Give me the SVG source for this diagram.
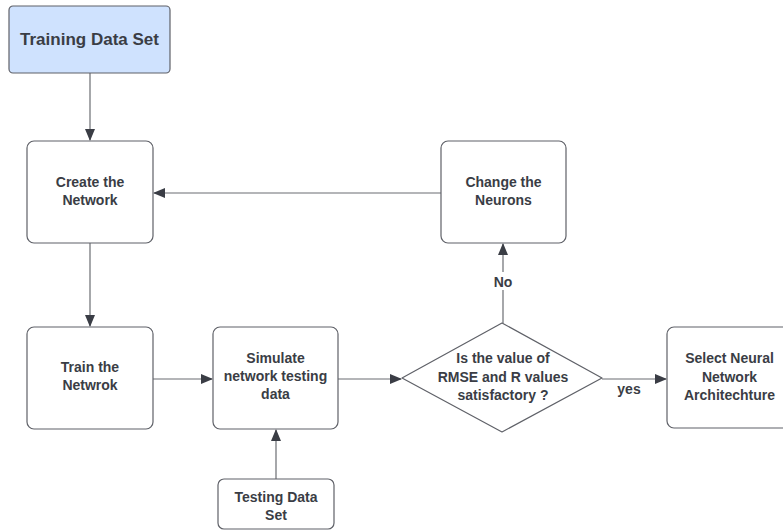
<svg xmlns="http://www.w3.org/2000/svg" width="783" height="531" viewBox="0 0 783 531">
<style>
.box{fill:#ffffff;stroke:#5f6168;stroke-width:1.2}
.start{fill:#cfe2fe;stroke:#5f6168;stroke-width:1.2}
.t{font-family:"Liberation Sans",Arial,sans-serif;font-weight:bold;font-size:14px;fill:#3a3d45;text-anchor:middle}
.big{font-size:17px}
.c{fill:none;stroke:#6b6d72;stroke-width:1.2}
</style>
<defs>
<marker id="ah" markerWidth="12" markerHeight="10" refX="11" refY="5" orient="auto" markerUnits="userSpaceOnUse">
<path d="M0,0 L12,5 L0,10 z" fill="#3a3d45"/>
</marker>
</defs>
<rect width="783" height="531" fill="#ffffff"/>
<g id="connectors">
<line class="c" x1="90" y1="73" x2="90" y2="140" marker-end="url(#ah)"/>
<line class="c" x1="90" y1="243" x2="90" y2="326" marker-end="url(#ah)"/>
<line class="c" x1="441" y1="193" x2="154" y2="193" marker-end="url(#ah)"/>
<line class="c" x1="153" y1="379" x2="212" y2="379" marker-end="url(#ah)"/>
<line class="c" x1="276" y1="479" x2="276" y2="430" marker-end="url(#ah)"/>
<line class="c" x1="338" y1="379" x2="401" y2="379" marker-end="url(#ah)"/>
<line class="c" x1="503" y1="323" x2="503" y2="244" marker-end="url(#ah)"/>
<line class="c" x1="602" y1="379" x2="666" y2="379" marker-end="url(#ah)"/>
<rect x="490" y="272" width="26" height="18" fill="#ffffff"/>
<text class="t" x="503" y="287">No</text>
<text class="t" x="629" y="394">yes</text>
</g>
<g id="training">
<rect class="start" x="9" y="6" width="161" height="67" rx="4"/>
<text class="t big" x="89.5" y="45">Training Data Set</text>
</g>
<g id="create">
<rect class="box" x="27" y="141" width="126" height="102" rx="7"/>
<text class="t" x="90" y="187">Create the</text>
<text class="t" x="90" y="205">Network</text>
</g>
<g id="change">
<rect class="box" x="441" y="141" width="125" height="102" rx="7"/>
<text class="t" x="503.5" y="187">Change the</text>
<text class="t" x="503.5" y="205">Neurons</text>
</g>
<g id="train">
<rect class="box" x="27" y="327" width="126" height="102" rx="7"/>
<text class="t" x="90" y="372">Train the</text>
<text class="t" x="90" y="390">Netwrok</text>
</g>
<g id="simulate">
<rect class="box" x="213" y="327" width="125" height="102" rx="7"/>
<text class="t" x="275.5" y="363">Simulate</text>
<text class="t" x="275.5" y="381">network testing</text>
<text class="t" x="275.5" y="399">data</text>
</g>
<g id="testing">
<rect class="box" x="218" y="479" width="116" height="50" rx="6"/>
<text class="t" x="276" y="502">Testing Data</text>
<text class="t" x="276" y="520">Set</text>
</g>
<g id="decision">
<path class="box" d="M502,323 L602,378 L502,432 L402,378 Z" stroke-linejoin="round"/>
<text class="t" x="503" y="363">Is the value of</text>
<text class="t" x="503" y="382">RMSE and R values</text>
<text class="t" x="503" y="400">satisfactory ?</text>
</g>
<g id="select">
<rect class="box" x="667" y="327" width="125" height="101" rx="7"/>
<text class="t" x="729.5" y="363">Select Neural</text>
<text class="t" x="729.5" y="382">Network</text>
<text class="t" x="729.5" y="400">Architechture</text>
</g>
</svg>
